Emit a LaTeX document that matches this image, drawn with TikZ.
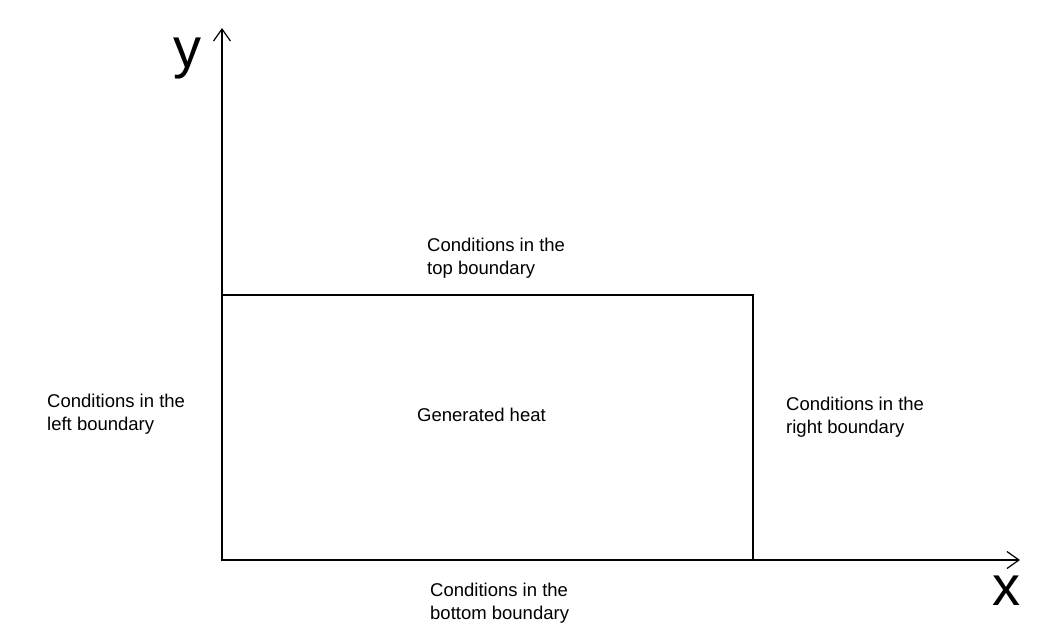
\documentclass[tikz,border=0pt]{standalone}
\usepackage{fontspec}
\setmainfont{Liberation Sans}
\usetikzlibrary{arrows.meta}
\tikzset{
  cond/.style={anchor=west,align=left,inner sep=0pt,font=\fontsize{18.5}{22.5}\selectfont},
  axlabel/.style={inner sep=0pt,font=\fontsize{56}{60}\selectfont},
  axis/.style={line width=1.2pt,-{Straight Barb[length=12pt,width=17pt,line width=1.2pt]}},
}

\begin{document}
\begin{tikzpicture}[x=1pt,y=-1pt]
        \useasboundingbox (0,0) rectangle (1058,641);
        %%% COORDINATES %%%
        \coordinate (o) at (222,560);
        \coordinate (yend) at (222,28);
        \coordinate (xend) at (1020,560);
        \coordinate (c) at (753,295);

        %%% AXES & DOMAIN %%%
        \draw[axis] (o)--(yend);
        \draw[axis] (o)--(xend);
        \draw[line width=1.2pt] (o) rectangle (c);
        \node[axlabel,anchor=base] (ylab) at (187,67) {y};
        \node[axlabel,anchor=base] (xlab) at (1006,605) {x};

        %%% BOUNDARY CONDITIONS %%%
        \node[cond] (top) at (427,258) {Conditions in the\\top boundary};
        \node[cond] (left) at (47,414) {Conditions in the\\left boundary};
        \node[cond] (right) at (786,417) {Conditions in the\\right boundary};
        \node[cond] (bottom) at (430,603) {Conditions in the\\bottom boundary};
        \node[cond] (heat) at (417,415) {Generated heat};
    \end{tikzpicture}
\end{document}
